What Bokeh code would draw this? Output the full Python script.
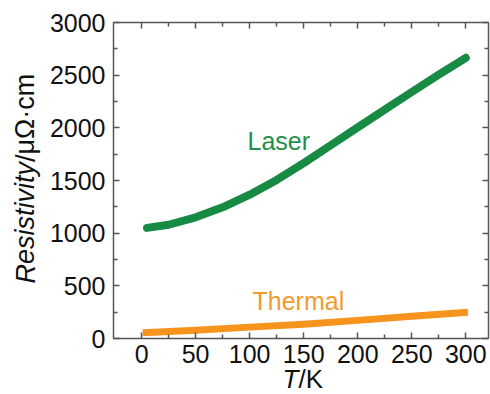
from bokeh.plotting import figure
from bokeh.models import Range1d, LinearAxis, FixedTicker, Label
from bokeh.embed import file_html
from bokeh.resources import INLINE

# Data
laser_T = [5, 25, 50, 75, 100, 125, 150, 175, 200, 225, 250, 275, 300]
laser_R = [1050, 1080, 1150, 1245, 1365, 1505, 1665, 1835, 2005, 2172, 2340, 2505, 2665]
thermal_T = [1, 50, 100, 150, 200, 250, 302]
thermal_R = [54, 78, 108, 136, 172, 212, 250]

x_ticks = [0, 50, 100, 150, 200, 250, 300]
x_minor = [25, 75, 125, 175, 225, 275]
y_ticks = [0, 500, 1000, 1500, 2000, 2500, 3000]
y_minor = [250, 750, 1250, 1750, 2250, 2750]

x_label_italic = "T"
x_label_rest = "/K"
y_label_italic = "Resistivity"
y_label_rest = "/μΩ·cm"
laser_name = "Laser"
thermal_name = "Thermal"

GREEN = "#178a43"
ORANGE = "#f7941d"
AXIS = "#555555"
FONT = "Liberation Sans"

W, H = 490, 394
# frame box of the axes rectangle (pixels) and its data limits
XL, XR, XMIN, XMAX = 113, 488, -26, 321
YT, YB, YMIN, YMAX = 22, 338, 0, 3000
kx = (XR - XL) / (XMAX - XMIN)
ky = (YB - YT) / (YMAX - YMIN)
x_start = XMIN - XL / kx
x_end = XMAX + (W - XR) / kx
y_start = YMIN - (H - YB) / ky
y_end = YMAX + YT / ky

def dx(px):
    return XMIN + (px - XL) / kx

def dy(py):
    return YMIN + (YB - py) / ky

p = figure(width=W, height=H, output_backend="svg", toolbar_location=None,
           x_range=Range1d(x_start, x_end), y_range=Range1d(y_start, y_end),
           x_axis_type=None, y_axis_type=None,
           min_border_left=0, min_border_right=0, min_border_top=0, min_border_bottom=0)
p.outline_line_color = None
p.xgrid.visible = False
p.ygrid.visible = False
p.background_fill_color = "white"
p.border_fill_color = "white"

def make_axis(kind, loc, show_labels):
    if kind == "x":
        ticker = FixedTicker(ticks=x_ticks, minor_ticks=x_minor)
        bounds = (XMIN, XMAX)
    else:
        ticker = FixedTicker(ticks=y_ticks, minor_ticks=y_minor)
        bounds = (YMIN, YMAX)
    ax = LinearAxis(ticker=ticker, fixed_location=loc, bounds=bounds)
    ax.axis_line_color = AXIS
    ax.axis_line_width = 1.5
    ax.major_tick_line_color = AXIS
    ax.minor_tick_line_color = AXIS
    ax.major_tick_line_width = 1.5
    ax.minor_tick_line_width = 1.5
    ax.major_tick_in = 6
    ax.major_tick_out = 0
    ax.minor_tick_in = 4
    ax.minor_tick_out = 0
    ax.major_label_text_font = FONT
    ax.major_label_text_font_size = "25px"
    if show_labels:
        ax.major_label_text_color = "#111111"
        ax.major_label_standoff = 8 if kind == "y" else 6
    else:
        ax.major_label_text_color = None
    return ax

p.add_layout(make_axis("x", YMIN, True), "below")
p.add_layout(make_axis("x", YMAX, False), "above")
p.add_layout(make_axis("y", XMIN, True), "left")
p.add_layout(make_axis("y", XMAX, False), "right")

p.line(laser_T, laser_R, line_width=8, line_color=GREEN, line_cap="round", line_join="round")
p.line(thermal_T, thermal_R, line_width=7, line_color=ORANGE, line_cap="butt", line_join="round")

p.add_layout(Label(x=dx(247), y=dy(140.7), text=laser_name, text_font=FONT, text_font_size="25px",
                   text_color="#1f8f4a", text_baseline="alphabetic", text_align="left"))
p.add_layout(Label(x=dx(252), y=dy(300.5), text=thermal_name, text_font=FONT, text_font_size="25px",
                   text_color="#f39a2b", text_baseline="alphabetic", text_align="left"))

p.add_layout(Label(x=dx(282), y=dy(378), text=x_label_italic, text_font=FONT, text_font_style="italic",
                   text_font_size="26px", text_color="#111111",
                   text_baseline="alphabetic", text_align="left"))
p.add_layout(Label(x=dx(298), y=dy(378), text=x_label_rest, text_font=FONT,
                   text_font_size="26px", text_color="#111111",
                   text_baseline="alphabetic", text_align="left"))
p.add_layout(Label(x=dx(25), y=dy(283), text=y_label_italic, text_font=FONT, text_font_style="italic",
                   text_font_size="27px", text_color="#111111", angle=1.5708,
                   text_baseline="middle", text_align="left"))
p.add_layout(Label(x=dx(25), y=dy(283 - 121.5), text=y_label_rest, text_font=FONT,
                   text_font_size="27px", text_color="#111111", angle=1.5708,
                   text_baseline="middle", text_align="left"))

open("out.html", "w").write(file_html(p, INLINE))
